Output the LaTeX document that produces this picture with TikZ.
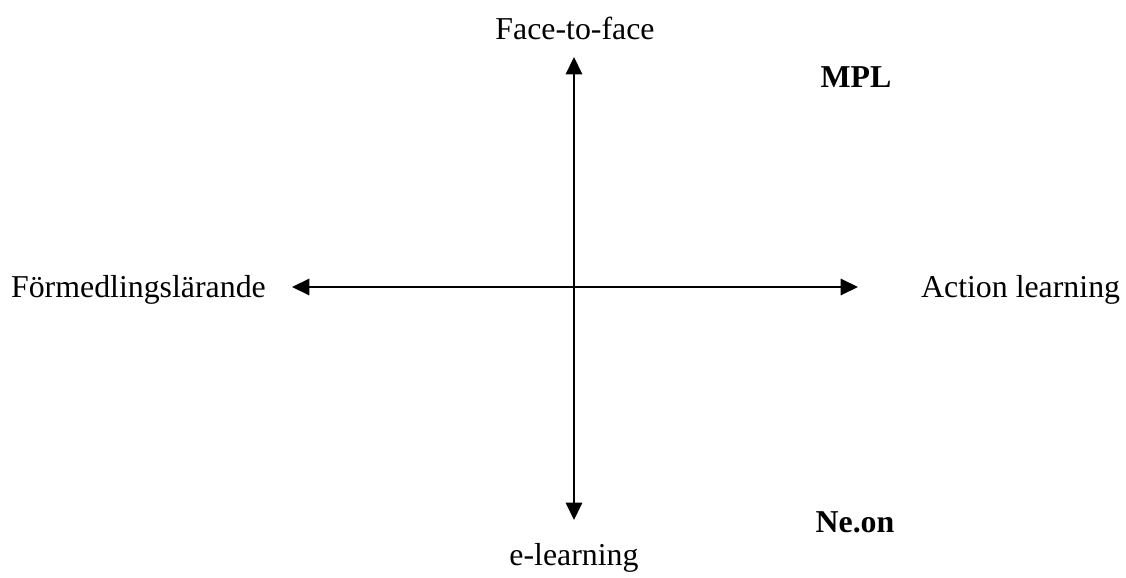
\documentclass[tikz,border=0pt]{standalone}
\usepackage{fontspec}
\setmainfont{Liberation Serif}
\usetikzlibrary{arrows.meta}
\begin{document}
\begin{tikzpicture}[x=0.38pt, y=-0.38pt, line width=0.85pt, every node/.style={font=\fontsize{12.1}{14}\selectfont, inner sep=0pt},
    axis/.style={{Triangle[length=6.6pt,width=6.2pt]}-{Triangle[length=6.6pt,width=6.2pt]}}]
  \useasboundingbox (0,0) rectangle (1126,578);
  \coordinate (top) at (574,57);
  \coordinate (bottom) at (574,520);
  \coordinate (leftend) at (292,287);
  \coordinate (rightend) at (858,287);
  \draw[axis] (bottom) -- (top);
  \draw[axis] (leftend) -- (rightend);
  \node[anchor=base] (ftf) at (575,40) {Face-to-face};
  \node[anchor=base, font=\fontsize{12.1}{14}\selectfont\bfseries] (mpl) at (856,88) {MPL};
  \node[anchor=base west] (form) at (10,298) {Förmedlingslärande};
  \node[anchor=base west] (action) at (920,298) {Action learning};
  \node[anchor=base, font=\fontsize{12.1}{14}\selectfont\bfseries] (neon) at (855,533) {Ne.on};
  \node[anchor=base] (elearn) at (574,566) {e-learning};
\end{tikzpicture}
\end{document}
